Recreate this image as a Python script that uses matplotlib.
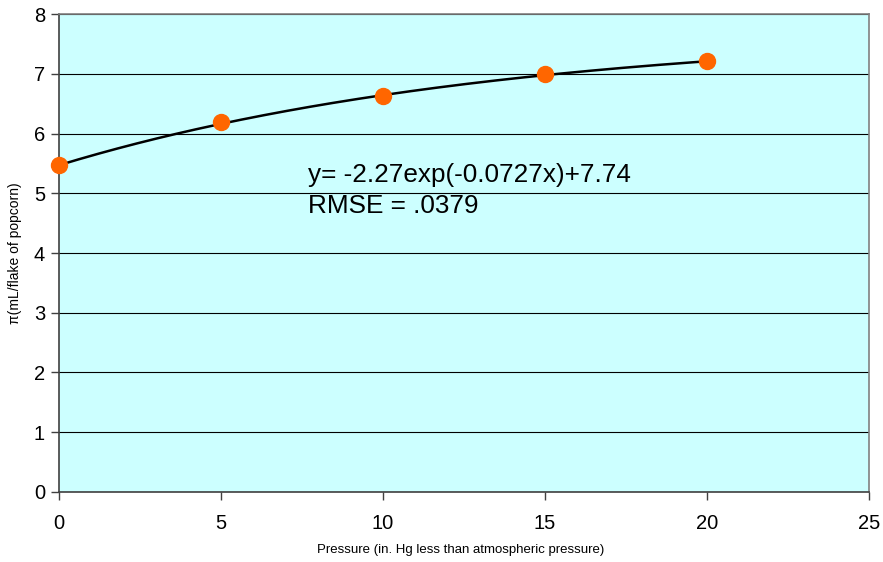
import numpy as np
import matplotlib
matplotlib.use("Agg")
import matplotlib.pyplot as plt

plt.rcParams['font.family'] = ['Liberation Sans', 'DejaVu Sans']

# measured points
pressure = [0, 5, 10, 15, 20]
volume = [5.47, 6.19, 6.62, 6.99, 7.21]

# fitted exponential model y = a*exp(b*x) + c
fit_a = -2.27
fit_b = -0.0727
fit_c = 7.74
eq_text = "y= -2.27exp(-0.0727x)+7.74"
rmse_text = "RMSE = .0379"

fig = plt.figure(figsize=(8.83, 5.62), dpi=100)
ax = fig.add_axes([0.0668, 0.1246, 0.9172, 0.8504])
ax.set_facecolor('#CCFFFF')

xs = np.linspace(min(pressure), max(pressure), 200)
ax.plot(xs, fit_a * np.exp(fit_b * xs) + fit_c, color='black', lw=1.8, zorder=3)
ax.plot(pressure, volume, 'o', color='#FF6600', markersize=11.5, zorder=4, clip_on=False)

ax.set_xlim(0, 25)
ax.set_ylim(0, 8)
ax.set_xticks(range(0, 26, 5))
ax.set_yticks(range(0, 9))
ax.yaxis.grid(True, color='black', lw=0.8)
ax.set_axisbelow(True)

for side in ('top', 'right'):
    ax.spines[side].set_color('#808080')
    ax.spines[side].set_linewidth(1.2)
for side in ('left', 'bottom'):
    ax.spines[side].set_color('#404040')
    ax.spines[side].set_linewidth(1.2)

ax.tick_params(axis='both', labelsize=14.5, direction='out', color='#404040', width=1)
ax.tick_params(axis='y', length=6, pad=4)
ax.tick_params(axis='x', length=6, pad=10)

# fit equation, two lines
ax.text(7.68, 5.19, eq_text, fontsize=18.8, va='baseline', ha='left')
ax.text(7.68, 4.67, rmse_text, fontsize=18.8, va='baseline', ha='left')

fig.text(461 / 883, 1 - 550 / 562, "Pressure (in. Hg less than atmospheric pressure)",
         fontsize=9.5, ha='center', va='center')
fig.text(15 / 883, 1 - 253 / 562, "π(mL/flake of popcorn)",
         fontsize=10, ha='center', va='center', rotation=90)

fig.savefig('out.png', dpi=100)
